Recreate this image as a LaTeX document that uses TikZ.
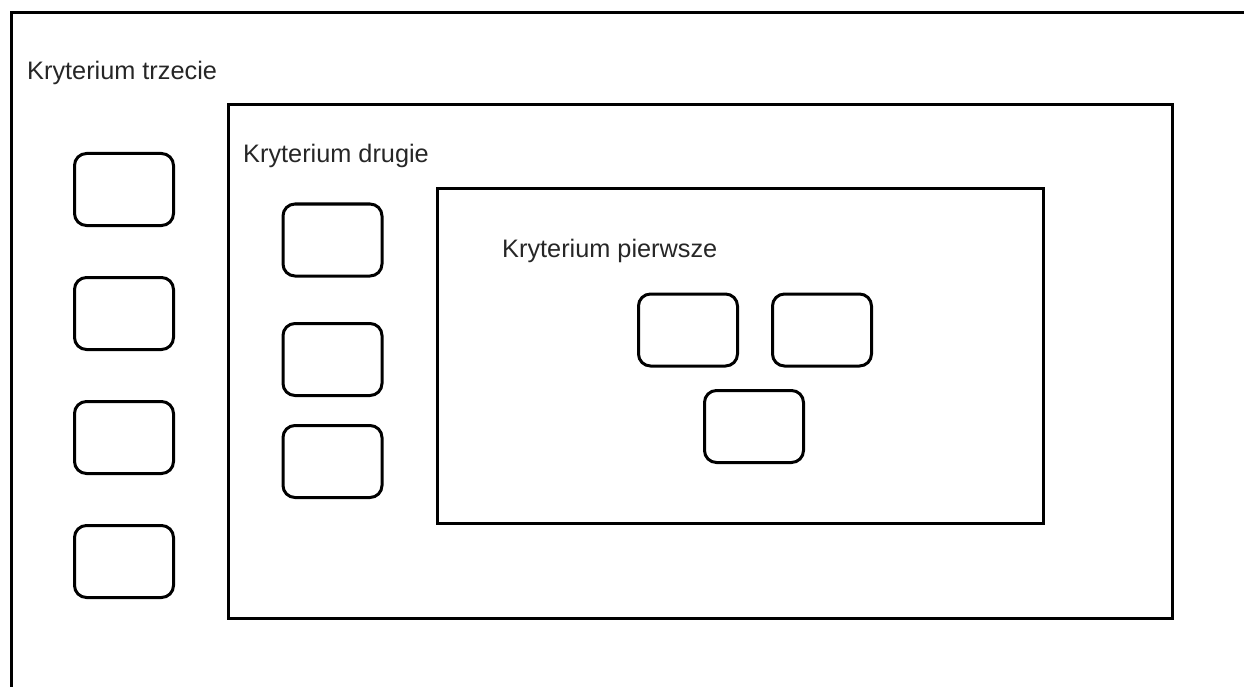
\documentclass[tikz,border=0pt]{standalone}
\usepackage{fontspec}
\setmainfont{Liberation Sans}
\usetikzlibrary{positioning}

\tikzset{
    ramka/.style={draw, line width=3pt, rectangle, anchor=north west, inner sep=0pt},
    kartka/.style={draw, line width=3pt, rectangle, rounded corners=12pt,
        minimum width=99pt, minimum height=72pt, inner sep=0pt},
    opis/.style={anchor=base west, inner sep=0pt, text=black!85,
        font=\fontsize{25.3}{29}\selectfont}
}

\begin{document}
\begin{tikzpicture}[x=1pt, y=-1pt]
        \useasboundingbox (0,0) rectangle (1244,687);
        \clip (0,0) rectangle (1244,687);

        % Draw the frames
        \node[ramka, minimum width=1300pt, minimum height=700pt] (trzecie) at (9.5,11) {};
        \node[ramka, minimum width=944.5pt, minimum height=514pt] (drugie) at (226.5,103) {};
        \node[ramka, minimum width=606pt, minimum height=335pt] (pierwsze) at (436,187) {};

        % Draw the labels
        \node[opis] (opis3) at (27,80)  {Kryterium trzecie};
        \node[opis] (opis2) at (243,163) {Kryterium drugie};
        \node[opis] (opis1) at (502,257) {Kryterium pierwsze};

        % Draw the cards of the third criterion
        \node[kartka] (t1) at (124,189.5) {};
        \node[kartka, below=49pt of t1] (t2) {};
        \node[kartka, below=49pt of t2] (t3) {};
        \node[kartka, below=49pt of t3] (t4) {};

        % Draw the cards of the second criterion
        \node[kartka] (d1) at (332.5,240) {};
        \node[kartka, below=44.5pt of d1] (d2) {};
        \node[kartka, below=27pt of d2] (d3) {};

        % Draw the cards of the first criterion
        \node[kartka] (p1) at (688,330) {};
        \node[kartka, right=32pt of p1] (p2) {};
        \node[kartka] (p3) at (754,426.5) {};
\end{tikzpicture}
\end{document}
